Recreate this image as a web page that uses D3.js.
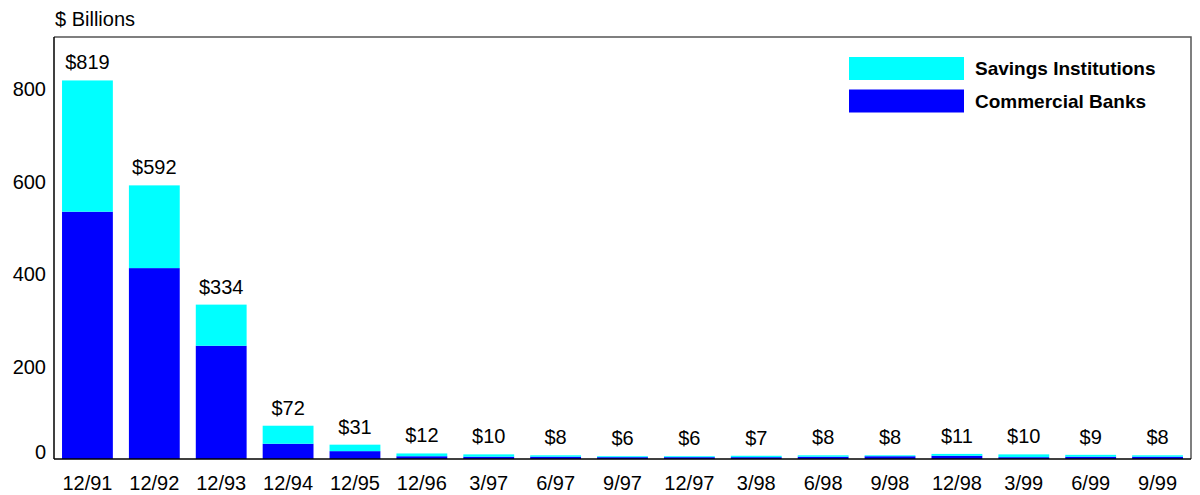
<!DOCTYPE html>
<html>
<head>
<meta charset="utf-8">
<script src="https://cdn.jsdelivr.net/npm/d3@7"></script>
<style>
  html, body { margin: 0; padding: 0; background: #fff; }
  text { font-family: Arial, "Liberation Sans", Helvetica, sans-serif; fill: #000; }
</style>
</head>
<body>
<svg id="chart" width="1200" height="495"></svg>
<script>
// Quarter-end labels
const categories = ["12/91","12/92","12/93","12/94","12/95","12/96","3/97","6/97","9/97",
                    "12/97","3/98","6/98","9/98","12/98","3/99","6/99","9/99"];
// Assets of problem institutions, $ billions
const commercialBanks = [535, 413, 245, 33, 17, 6, 5, 5, 4, 4, 4, 5, 6, 7, 4, 5, 5];
const savingsInstitutions = [284, 179, 89, 39, 14, 6, 5, 3, 2, 2, 3, 3, 2, 4, 6, 4, 3];
const yTicks = [0, 200, 400, 600, 800];
const seriesNames = ["Savings Institutions", "Commercial Banks"];

const colors = { "Commercial Banks": "#0000ff", "Savings Institutions": "#00ffff" };

const svg = d3.select("#chart");
const plot = { left: 54, right: 1191, top: 37, bottom: 459 };

const x = d3.scaleBand()
  .domain(categories)
  .range([plot.left, plot.right])
  .paddingInner(0.24)
  .paddingOuter(0.12);

const y = d3.scaleLinear()
  .domain([0, 913])
  .range([plot.bottom, plot.top]);

const rows = categories.map((c, i) => ({
  cat: c,
  "Commercial Banks": commercialBanks[i],
  "Savings Institutions": savingsInstitutions[i]
}));

const stack = d3.stack().keys(["Commercial Banks", "Savings Institutions"]);
const layers = stack(rows);

// frame: light top/right border
svg.append("path")
  .attr("d", `M${plot.left},${plot.top}H${plot.right}V${plot.bottom}`)
  .attr("fill", "none").attr("stroke", "#555").attr("stroke-width", 1.5);

// stacked bars
svg.append("g").selectAll("g")
  .data(layers)
  .join("g")
  .attr("fill", d => colors[d.key])
  .selectAll("rect")
  .data(d => d)
  .join("rect")
  .attr("x", d => x(d.data.cat))
  .attr("width", x.bandwidth())
  .attr("y", d => y(d[1]))
  .attr("height", d => y(d[0]) - y(d[1]));

// axis lines
svg.append("line")
  .attr("x1", plot.left).attr("x2", plot.left)
  .attr("y1", plot.top).attr("y2", plot.bottom)
  .attr("stroke", "#000").attr("stroke-width", 1.5);
svg.append("line")
  .attr("x1", plot.left).attr("x2", plot.right)
  .attr("y1", plot.bottom).attr("y2", plot.bottom)
  .attr("stroke", "#000").attr("stroke-width", 1.5);

// y tick labels (baseline label kept just above the axis line)
svg.append("g").selectAll("text")
  .data(yTicks)
  .join("text")
  .attr("x", 46)
  .attr("y", d => Math.min(y(d), plot.bottom - 7))
  .attr("dy", "0.35em")
  .attr("text-anchor", "end")
  .attr("font-size", 20)
  .text(d => d);

// category labels
svg.append("g").selectAll("text")
  .data(categories)
  .join("text")
  .attr("x", d => x(d) + x.bandwidth() / 2)
  .attr("y", 490)
  .attr("text-anchor", "middle")
  .attr("font-size", 20)
  .text(d => d);

// total labels above bars
svg.append("g").selectAll("text")
  .data(rows)
  .join("text")
  .attr("x", d => x(d.cat) + x.bandwidth() / 2)
  .attr("y", d => y(d["Commercial Banks"] + d["Savings Institutions"]) - 11)
  .attr("text-anchor", "middle")
  .attr("font-size", 20)
  .text(d => "$" + (d["Commercial Banks"] + d["Savings Institutions"]));

// unit title
svg.append("text")
  .attr("x", 55).attr("y", 26)
  .attr("font-size", 20)
  .text("$ Billions");

// legend
const legend = svg.append("g").selectAll("g")
  .data(seriesNames)
  .join("g")
  .attr("transform", (d, i) => `translate(849, ${57 + i * 32.5})`);
legend.append("rect")
  .attr("width", 115).attr("height", 23)
  .attr("fill", d => colors[d]);
legend.append("text")
  .attr("x", 126).attr("y", 11.5)
  .attr("dy", "0.35em")
  .attr("font-size", 19)
  .attr("font-weight", "bold")
  .text(d => d);
</script>
</body>
</html>
